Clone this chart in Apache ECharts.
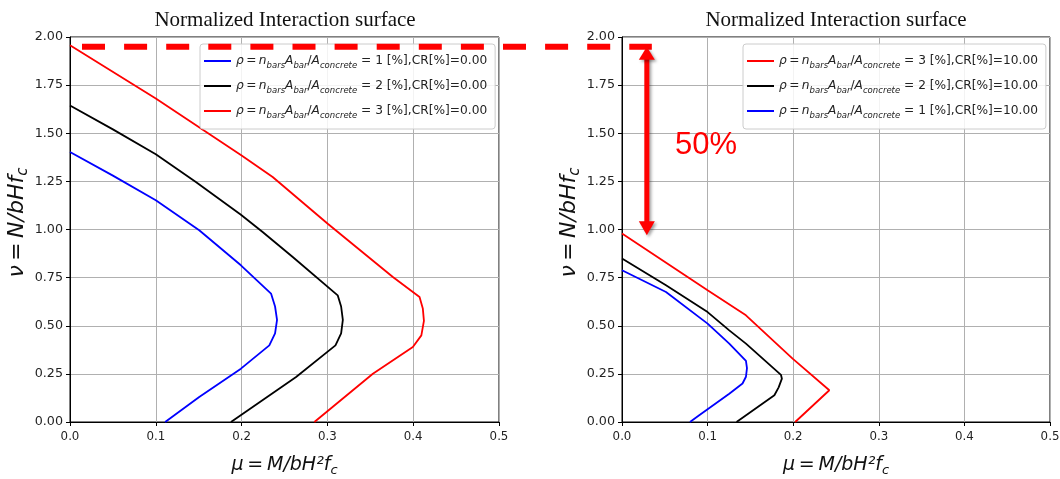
<!DOCTYPE html>
<html><head><meta charset="utf-8">
<script src="https://cdn.jsdelivr.net/npm/echarts@6/dist/echarts.min.js"></script>
<style>html,body{margin:0;padding:0;background:#fff}#c{width:1060px;height:479px}</style>
</head><body><div id="c"></div>
<script>
// ---- data ----
const titleText = 'Normalized Interaction surface';
const xTickValues = [0, 0.1, 0.2, 0.3, 0.4, 0.5];
const yTickValues = [0, 0.25, 0.5, 0.75, 1.0, 1.25, 1.5, 1.75, 2.0];
const rhoValues = [1, 2, 3];
const crLeft = '0.00';
const crRight = '10.00';

// left panel, CR = 0 %
const leftRho1 = [[0,1.403],[0.05,1.28],[0.100,1.152],[0.1506,0.996],[0.1992,0.814],[0.2343,0.667],[0.239,0.60],[0.2413,0.530],[0.239,0.46],[0.2323,0.398],[0.1992,0.277],[0.1506,0.130],[0.1109,0]];
const leftRho2 = [[0,1.644],[0.05,1.52],[0.100,1.391],[0.1467,1.247],[0.1992,1.077],[0.2245,0.987],[0.2596,0.857],[0.312,0.658],[0.316,0.60],[0.318,0.530],[0.316,0.46],[0.3094,0.398],[0.2635,0.234],[0.1876,0]];
const leftRho3 = [[0,1.957],[0.100,1.680],[0.200,1.385],[0.2362,1.273],[0.3004,1.030],[0.3763,0.753],[0.4074,0.649],[0.4112,0.59],[0.4125,0.525],[0.4095,0.45],[0.3996,0.390],[0.353,0.251],[0.2848,0]];

// right panel, CR = 10 %
const rightRho3 = [[0,0.979],[0.100,0.684],[0.1448,0.554],[0.1993,0.329],[0.2422,0.165],[0.2023,0]];
const rightRho2 = [[0,0.849],[0.0514,0.71],[0.100,0.571],[0.1253,0.476],[0.1448,0.407],[0.1857,0.245],[0.1868,0.225],[0.183,0.18],[0.178,0.139],[0.1338,0]];
const rightRho1 = [[0,0.788],[0.0514,0.675],[0.100,0.511],[0.1253,0.407],[0.1448,0.317],[0.146,0.28],[0.1448,0.235],[0.1408,0.200],[0.1253,0.147],[0.0902,0.035],[0.0794,0]];

// annotation values
const refLevel = 1.95;       // dashed reference line (nu)
const arrowX = 0.029;        // mu of the double arrow (right panel)
const arrowTop = 1.95;
const arrowBottom = 0.97;
const annotationText = '50%';

// ---- chart ----
const FONT = 'DejaVu Sans';
const LF = 12.2;
const rich = {
  m: {fontFamily: FONT, fontStyle: 'italic', fontSize: LF, color: '#222', lineHeight: 18},
  t: {fontFamily: FONT, fontSize: LF, color: '#222', lineHeight: 18},
  s: {fontFamily: FONT, fontStyle: 'italic', fontSize: 8.5, color: '#222', verticalAlign: 'bottom'}
};
function legendLabel(rho, cr) {
  return '{m|ρ}{t|\u2009=\u2009}{m|n}{s|bars}{m|A}{s|bar}{t|/}{m|A}{s|concrete}{t| = ' + rho + ' [%],CR[%]=' + cr + '}';
}
const names = {};
rhoValues.forEach(r => { names['L' + r] = legendLabel(r, crLeft); names['R' + r] = legendLabel(r, crRight); });

const colors = {1: '#0000ff', 2: '#000000', 3: '#ff0000'};
const leftData = {1: leftRho1, 2: leftRho2, 3: leftRho3};
const rightData = {1: rightRho1, 2: rightRho2, 3: rightRho3};

function nameRich(size, sub) {
  return {
    i: {fontFamily: FONT, fontStyle: 'italic', fontSize: size, color: '#111', lineHeight: size + 5},
    t: {fontFamily: FONT, fontSize: size, color: '#111', lineHeight: size + 5},
    s: {fontFamily: FONT, fontStyle: 'italic', fontSize: sub, color: '#111', verticalAlign: 'bottom'}
  };
}

function xAxis(gi) {
  return {
    type: 'value', gridIndex: gi, min: 0, max: 0.5, interval: 0.1,
    name: '{i|μ}{t|\u2009=\u2009}{i|M/bH²f}{s|c}', nameLocation: 'middle', nameGap: 31,
    nameTextStyle: {rich: nameRich(19, 13)},
    axisLine: {onZero: false, lineStyle: {color: '#000', width: 1}},
    axisTick: {show: true, length: 4, lineStyle: {color: '#000'}},
    axisLabel: {fontFamily: FONT, fontSize: 11.8, color: '#222', margin: 9, formatter: v => v.toFixed(1)},
    splitLine: {show: true, lineStyle: {color: '#b0b0b0', width: 1}}
  };
}
function yAxis(gi) {
  return {
    type: 'value', gridIndex: gi, min: 0, max: 2, interval: 0.25,
    name: '{i|ν}{t|\u2009=\u2009}{i|N/bHf}{s|c}', nameLocation: 'middle', nameGap: 30, nameRotate: 90,
    nameTextStyle: {rich: nameRich(22, 15), padding: [0, 0, 0, 14]},
    axisLine: {onZero: false, lineStyle: {color: '#000', width: 1}},
    axisTick: {show: true, length: 4, lineStyle: {color: '#000'}},
    axisLabel: {fontFamily: FONT, fontSize: 12.7, color: '#222', margin: 7, formatter: v => v.toFixed(2)},
    splitLine: {show: true, lineStyle: {color: '#b0b0b0', width: 1}}
  };
}

const series = [];
[1, 2, 3].forEach(r => series.push({
  name: 'L' + r, type: 'line', xAxisIndex: 0, yAxisIndex: 0, data: leftData[r],
  symbol: 'none', lineStyle: {color: colors[r], width: 1.8}, itemStyle: {color: colors[r]}, z: 3
}));
[3, 2, 1].forEach(r => series.push({
  name: 'R' + r, type: 'line', xAxisIndex: 1, yAxisIndex: 1, data: rightData[r],
  symbol: 'none', lineStyle: {color: colors[r], width: 1.8}, itemStyle: {color: colors[r]}, z: 3
}));

function legend(data, left) {
  return {
    data: data, orient: 'vertical', left: left, top: 44,
    padding: [11, 8, 9, 4], itemGap: 10, itemWidth: 27, itemHeight: 2, icon: 'rect',
    backgroundColor: 'rgba(255,255,255,0.85)', borderColor: '#cccccc', borderWidth: 1, borderRadius: 3,
    formatter: n => names[n], textStyle: {rich: rich}, selectedMode: false
  };
}

const chart = echarts.init(document.getElementById('c'), null, {renderer: 'canvas'});
chart.setOption({
  animation: false,
  backgroundColor: '#ffffff',
  grid: [
    {left: 70, top: 37, width: 429, height: 385, outerBoundsMode: 'none', containLabel: false, show: true, borderColor: '#000', borderWidth: 1, backgroundColor: 'transparent'},
    {left: 622, top: 37, width: 428, height: 385, outerBoundsMode: 'none', containLabel: false, show: true, borderColor: '#000', borderWidth: 1, backgroundColor: 'transparent'}
  ],
  xAxis: [xAxis(0), xAxis(1)],
  yAxis: [yAxis(0), yAxis(1)],
  legend: [legend(['L1', 'L2', 'L3'], 200), legend(['R3', 'R2', 'R1'], 743)],
  series: series
});

// annotations positioned through the axes
const pRefL = chart.convertToPixel({gridIndex: 0}, [0, refLevel]);
const pA = chart.convertToPixel({gridIndex: 1}, [arrowX, arrowTop]);
const pB = chart.convertToPixel({gridIndex: 1}, [arrowX, arrowBottom]);
const yRef = pRefL[1];
const ax = pA[0];
const shadow = {shadowBlur: 3, shadowColor: 'rgba(0,0,0,0.35)', shadowOffsetX: 2, shadowOffsetY: 2};
const titleFont = '21px "Liberation Serif"';
const g = [];
g.push({type: 'text', x: 285, y: 10, style: {text: titleText, font: titleFont, fill: '#111', align: 'center'}, z: 10});
g.push({type: 'text', x: 836, y: 10, style: {text: titleText, font: titleFont, fill: '#111', align: 'center'}, z: 10});
g.push({type: 'line', shape: {x1: 82, y1: yRef, x2: ax + 5, y2: yRef}, style: {stroke: '#ff0000', lineWidth: 6, lineDash: [23, 19.1]}, z: 20});
g.push({type: 'line', shape: {x1: ax, y1: pA[1] + 10, x2: ax, y2: pB[1] - 10}, style: Object.assign({stroke: '#ff0000', lineWidth: 5}, shadow), z: 20});
g.push({type: 'polygon', shape: {points: [[ax, pA[1]], [ax - 8, pA[1] + 13], [ax + 8, pA[1] + 13]]}, style: Object.assign({fill: '#ff0000'}, shadow), z: 20});
g.push({type: 'polygon', shape: {points: [[ax, pB[1]], [ax - 8, pB[1] - 14], [ax + 8, pB[1] - 14]]}, style: Object.assign({fill: '#ff0000'}, shadow), z: 20});
g.push({type: 'text', x: 675, y: 130, style: Object.assign({text: annotationText, font: '31px "Liberation Sans"', fill: '#ff0000'}, {shadowBlur: 3, shadowColor: 'rgba(0,0,0,0.3)', shadowOffsetX: 1, shadowOffsetY: 1}), z: 20});
chart.setOption({graphic: g});
</script>
</body></html>
